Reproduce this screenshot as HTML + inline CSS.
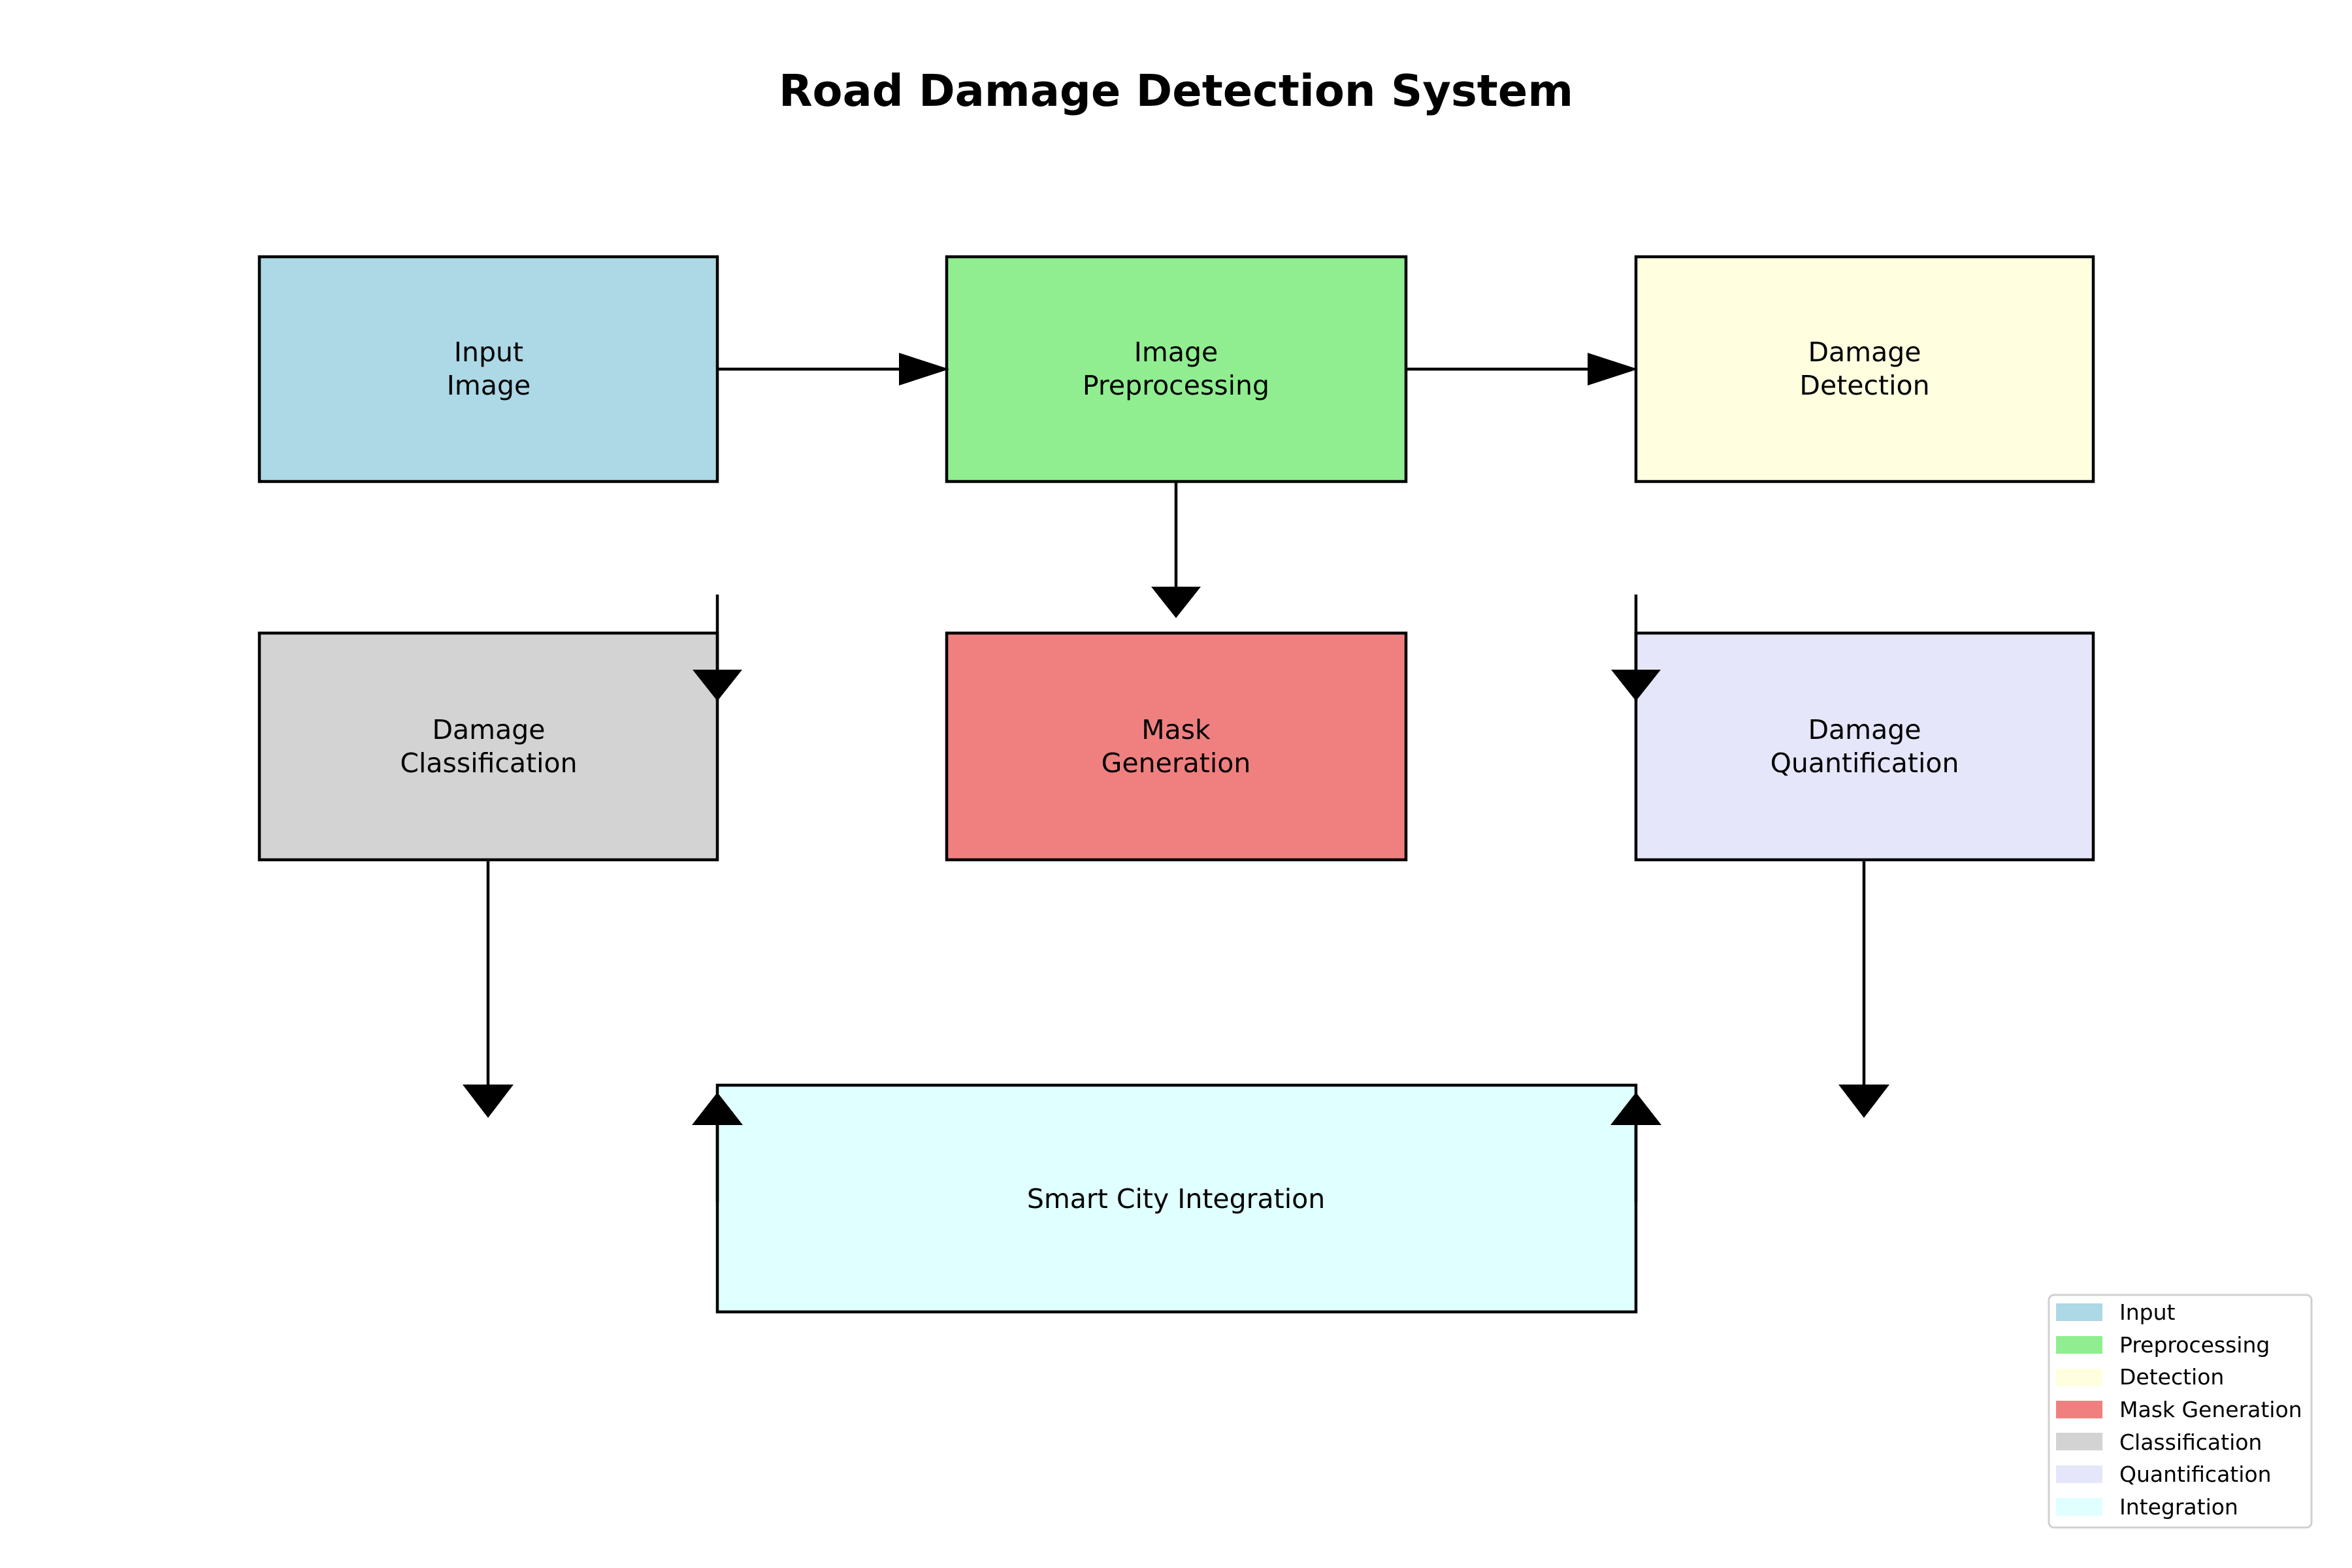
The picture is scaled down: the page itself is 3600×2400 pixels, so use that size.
<!DOCTYPE html>
<html><head><meta charset="utf-8"><style>
html,body{margin:0;padding:0;background:#fff}
svg{display:block}
text{font-family:"DejaVu Sans","Liberation Sans",sans-serif}
</style></head><body>
<svg width="3600" height="2400" viewBox="0 0 3600 2400" xmlns="http://www.w3.org/2000/svg">
<rect width="3600" height="2400" fill="#fff"/>
<text x="1800" y="162" font-size="67" font-weight="bold" text-anchor="middle">Road Damage Detection System</text>
<g stroke="#000" stroke-width="4.5">
<rect x="397" y="393" width="701" height="344" fill="#add8e6"/>
<rect x="1449" y="393" width="703" height="344" fill="#90ee90"/>
<rect x="2504" y="393" width="700" height="344" fill="#ffffe0"/>
<rect x="397" y="969" width="701" height="347" fill="#d3d3d3"/>
<rect x="1449" y="969" width="703" height="347" fill="#f08080"/>
<rect x="2504" y="969" width="700" height="347" fill="#e6e6fa"/>
<rect x="1098" y="1661" width="1406" height="347" fill="#e0ffff"/>
</g>
<g font-size="41" text-anchor="middle">
<text x="748" y="553">Input</text><text x="748" y="604">Image</text>
<text x="1800" y="553">Image</text><text x="1800" y="604">Preprocessing</text>
<text x="2854" y="553">Damage</text><text x="2854" y="604">Detection</text>
<text x="748" y="1131">Damage</text><text x="748" y="1182">Classification</text>
<text x="1800" y="1131">Mask</text><text x="1800" y="1182">Generation</text>
<text x="2854" y="1131">Damage</text><text x="2854" y="1182">Quantification</text>
<text x="1800" y="1849">Smart City Integration</text>
</g>
<g stroke="#000" stroke-width="4.5">
<line x1="1098" y1="565" x2="1380" y2="565"/>
<line x1="2152" y1="565" x2="2434" y2="565"/>
<line x1="1800" y1="737" x2="1800" y2="900"/>
<line x1="1098" y1="910" x2="1098" y2="1073"/>
<line x1="2504" y1="910" x2="2504" y2="1073"/>
<line x1="747" y1="1316" x2="747" y2="1662"/>
<line x1="2853" y1="1316" x2="2853" y2="1662"/>
<line x1="1098" y1="1840" x2="1098" y2="1720"/>
<line x1="2504" y1="1840" x2="2504" y2="1720"/>
</g>
<g fill="#000">
<polygon points="1376,540 1453,565 1376,590"/>
<polygon points="2430,540 2507,565 2430,590"/>
<polygon points="1762,898 1838,898 1800,946"/>
<polygon points="1060,1025 1136,1025 1098,1073"/>
<polygon points="2466,1025 2542,1025 2504,1073"/>
<polygon points="708,1660 786,1660 747,1711"/>
<polygon points="2814,1660 2892,1660 2853,1711"/>
<polygon points="1059,1722 1137,1722 1098,1672"/>
<polygon points="2465,1722 2543,1722 2504,1672"/>
</g>
<rect x="3136" y="1982" width="402" height="356" rx="8" fill="#fff" stroke="#d0d0d0" stroke-width="3"/>
<g>
<rect x="3147" y="1995" width="71" height="27" fill="#add8e6"/>
<rect x="3147" y="2045" width="71" height="27" fill="#90ee90"/>
<rect x="3147" y="2095" width="71" height="27" fill="#ffffe0"/>
<rect x="3147" y="2144" width="71" height="27" fill="#f08080"/>
<rect x="3147" y="2193" width="71" height="27" fill="#d3d3d3"/>
<rect x="3147" y="2243" width="71" height="27" fill="#e6e6fa"/>
<rect x="3147" y="2293" width="71" height="27" fill="#e0ffff"/>
</g>
<g font-size="33">
<text x="3244" y="2020">Input</text>
<text x="3244" y="2070">Preprocessing</text>
<text x="3244" y="2119">Detection</text>
<text x="3244" y="2169">Mask Generation</text>
<text x="3244" y="2219">Classification</text>
<text x="3244" y="2268">Quantification</text>
<text x="3244" y="2318">Integration</text>
</g>
</svg>
</body></html>
